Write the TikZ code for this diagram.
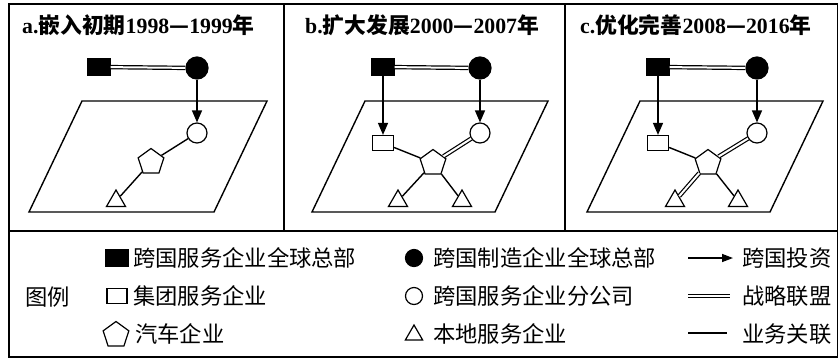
\documentclass[tikz,border=0pt]{standalone}
\usepackage{fontspec}
\setmainfont{Liberation Serif}
\newfontfamily\cjk{Noto Sans CJK SC}
\usetikzlibrary{arrows.meta,shapes.geometric}
\begin{document}
\begin{tikzpicture}[x=1pt,y=-1pt,
 frame/.style={line width=1.6pt},
 plane/.style={line width=1.4pt, line join=miter},
 hqs/.style={draw, fill=black, minimum width=22pt, minimum height=16pt, inner sep=0, line width=1.2pt},
 hqc/.style={circle, draw, fill=black, minimum size=22pt, inner sep=0, line width=1.2pt},
 grp/.style={draw, fill=white, minimum width=21pt, minimum height=15pt, inner sep=0, line width=1.2pt},
 br/.style={circle, draw, fill=white, minimum size=20pt, inner sep=0, line width=1.2pt},
 car/.style={regular polygon, regular polygon sides=5, draw, fill=white, minimum size=27pt, inner sep=0, line width=1.2pt},
 loc/.style={regular polygon, regular polygon sides=3, draw, fill=white, minimum size=22pt, inner sep=0, line width=1.2pt},
 invest/.style={line width=1.4pt, -{Triangle[length=12pt,width=10pt]}},
 alliance/.style={double, double distance=2pt, line width=1.2pt},
 biz/.style={line width=1.4pt},
 ttl/.style={anchor=west, inner sep=0, font=\fontsize{21.8}{24}\selectfont},
 lg/.style={anchor=west, inner sep=0, font=\cjk\fontsize{22.3}{25}\selectfont},
]
\useasboundingbox (0,0) rectangle (839,360);
% frame
\draw[frame] (9,4) rectangle (837.5,357);
\draw[frame] (9,231) -- (837.5,231);
\draw[frame] (284,4) -- (284,231);
\draw[frame] (565,4) -- (565,231);
% titles
\node[ttl] (ta) at (22,25) {\bfseries a.{\cjk\bfseries 嵌入初期}1998{\cjk —}1999{\cjk\bfseries 年}};
\node[ttl] (tb) at (305,25) {\bfseries b.{\cjk\bfseries 扩大发展}2000{\cjk —}2007{\cjk\bfseries 年}};
\node[ttl] (tc) at (580,25) {\bfseries c.{\cjk\bfseries 优化完善}2008{\cjk —}2016{\cjk\bfseries 年}};
% planes
\draw[plane] (82,101) -- (267,101) -- (214,212) -- (29,212) -- cycle;
\draw[plane] (365,101) -- (548,101) -- (495,212) -- (312,212) -- cycle;
\draw[plane] (640,101) -- (823,101) -- (770,212) -- (587,212) -- cycle;
% panel a
\node[hqs] (aSq) at (99,67) {};
\node[hqc] (aBc) at (197,68) {};
\node[br] (aWc) at (197,133) {};
\node[car] (aPt) at (151,162) {};
\node[loc] (aTr) at (116,201) {};
\draw[alliance] (aSq) -- (aBc);
\draw[invest] (aBc) -- (aWc);
\draw[biz] (aWc) -- (aPt);
\draw[biz] (aPt) -- (aTr);
% panel b
\node[hqs] (bSq) at (383,67) {};
\node[hqc] (bBc) at (480,68) {};
\node[grp] (bRe) at (383,143) {};
\node[br] (bWc) at (480,133) {};
\node[car] (bPt) at (433,163) {};
\node[loc] (bTl) at (398,201) {};
\node[loc] (bTr) at (462,201) {};
\draw[alliance] (bSq) -- (bBc);
\draw[invest] (bSq) -- (bRe);
\draw[invest] (bBc) -- (bWc);
\draw[biz] (bRe) -- (bPt);
\draw[alliance] (bWc) -- (bPt);
\draw[biz] (bPt) -- (bTl);
\draw[biz] (bPt) -- (bTr);
% panel c
\node[hqs] (cSq) at (658,67) {};
\node[hqc] (cBc) at (757,68) {};
\node[grp] (cRe) at (658,143) {};
\node[br] (cWc) at (757,133) {};
\node[car] (cPt) at (708,163) {};
\node[loc] (cTl) at (675,201) {};
\node[loc] (cTr) at (738,201) {};
\draw[alliance] (cSq) -- (cBc);
\draw[invest] (cSq) -- (cRe);
\draw[invest] (cBc) -- (cWc);
\draw[biz] (cRe) -- (cPt);
\draw[alliance] (cWc) -- (cPt);
\draw[alliance] (cPt) -- (cTl);
\draw[biz] (cPt) -- (cTr);
% legend
\node[lg] (lgT) at (25,297) {图例};
\node[hqs, minimum width=22pt, minimum height=17pt] (l1s) at (117,258) {};
\node[grp, minimum width=20pt, minimum height=15pt] (l2s) at (117,296) {};
\node[car] (l3s) at (116,335) {};
\node[lg] (l1t) at (133,258) {跨国服务企业全球总部};
\node[lg] (l2t) at (133,296) {集团服务企业};
\node[lg] (l3t) at (135,334) {汽车企业};
\node[hqc, minimum size=17pt] (l4s) at (414,258) {};
\node[br, minimum size=17pt] (l5s) at (414,296) {};
\node[loc, minimum size=20pt] (l6s) at (414,335) {};
\node[lg] (l4t) at (433,258) {跨国制造企业全球总部};
\node[lg] (l5t) at (433,296) {跨国服务企业分公司};
\node[lg] (l6t) at (433,334) {本地服务企业};
\coordinate (a1) at (688,258); \coordinate (a2) at (733,258);
\coordinate (d1) at (688,296); \coordinate (d2) at (730,296);
\coordinate (p1) at (688,333); \coordinate (p2) at (727,333);
\draw[line width=1.4pt, -{Triangle[length=11pt,width=8pt]}] (a1) -- (a2);
\draw[alliance] (d1) -- (d2);
\draw[biz] (p1) -- (p2);
\node[lg] (l7t) at (742,258) {跨国投资};
\node[lg] (l8t) at (742,296) {战略联盟};
\node[lg] (l9t) at (742,334) {业务关联};
\end{tikzpicture}
\end{document}
